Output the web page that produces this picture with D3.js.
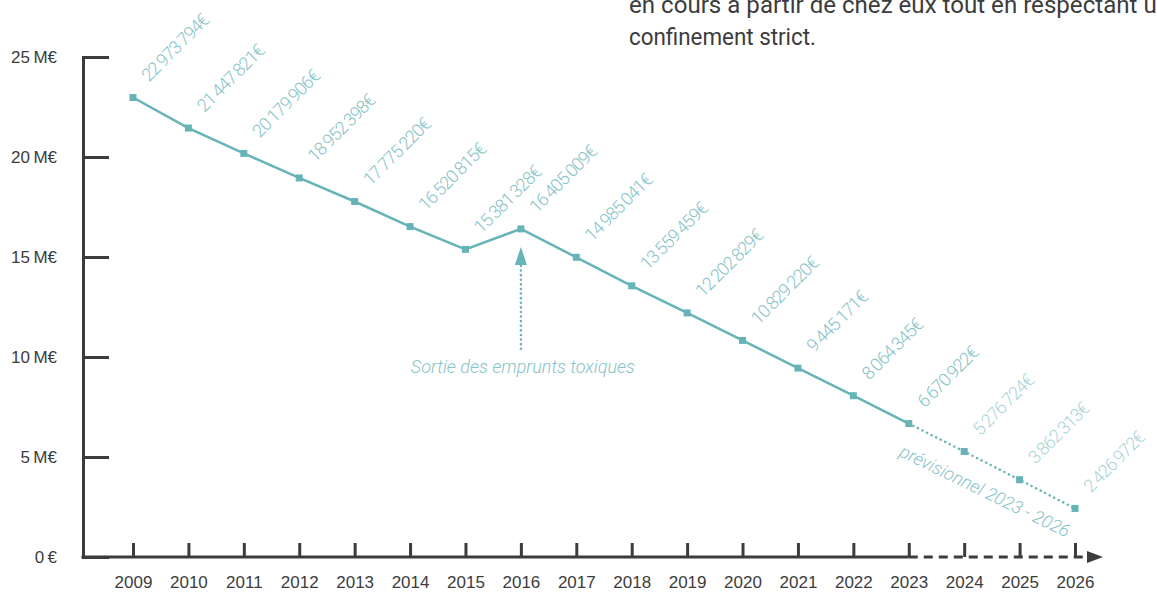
<!DOCTYPE html>
<html>
	<head>
		<title>Encours de la dette</title>
		<meta charset="utf-8">
		<style>
		body { margin: 0; background: #fff; }
		svg { display: block; font-family: Roboto, "DejaVu Sans", sans-serif; }
		.axis path, .axis line { stroke: #3c3c3c; stroke-width: 3px; }
		.axis text { fill: #3c3c3c; font-size: 17px; }
		.intro { fill: #3c3c3c; font-size: 24px; }
		.debt_line { fill: none; stroke: #66b4b7; stroke-width: 2.5px; }
		.forecast_line { fill: none; stroke: #66b4b7; stroke-width: 2.5px; stroke-dasharray: 0.1 5; stroke-linecap: round; }
		.marker { fill: #66b4b7; }
		.value_label { fill: #86c3c7; font-size: 18px; font-weight: 300; letter-spacing: -1px; }
		.value_label.forecast { fill: #a9d5d8; }
		.note { fill: #86c3c7; font-size: 18px; font-weight: 300; font-style: italic; }
		</style>
	</head>
<body>

<script src="https://cdn.jsdelivr.net/npm/d3@7"></script>

<script>

var width = 1157,
    height = 592;

// encours de la dette au 1er janvier
var years = [2009, 2010, 2011, 2012, 2013, 2014, 2015, 2016, 2017,
             2018, 2019, 2020, 2021, 2022, 2023, 2024, 2025, 2026];
var debt = [22973794, 21447821, 20179906, 18952398, 17775220, 16520815,
            15381328, 16405009, 14985041, 13559459, 12202829, 10829220,
            9445171, 8064345, 6670922, 5276724, 3862313, 2426972];
var last_real_year = 2023;   // après : prévisionnel
var y_ticks = [0, 5e6, 10e6, 15e6, 20e6, 25e6];

var intro_lines = ["en cours à partir de chez eux tout en respectant un",
                   "confinement strict."];
var event_year = 2016, event_text = "Sortie des emprunts toxiques";
var forecast_text = "prévisionnel 2023 - 2026";


var svg = d3.select("body").append("svg")
    .attr("width", width)
    .attr("height", height);

var x = d3.scaleLinear().domain([2009, 2026]).range([133, 1075]);
var y = d3.scaleLinear().domain([0, 25e6]).range([557, 57]);
var axis_x0 = 83;

var thin = "\u2009";
var fmt_money = function(v) { return d3.format(",")(v).replace(/,/g, thin) + "€"; };
var fmt_tick = function(v) { return v === 0 ? "0" + thin + "€" : (v / 1e6) + thin + "M€"; };

var data = years.map(function(yr, i) { return {year: yr, value: debt[i]}; });
var real = data.filter(function(d) { return d.year <= last_real_year; });
var forecast = data.filter(function(d) { return d.year >= last_real_year; });


// texte d'intro (coupé en haut)
svg.append("text")
	.attr("class", "intro")
	.attr("x", 629)
	.attr("y", 13)
	.attr("textLength", 541)
	.attr("lengthAdjust", "spacingAndGlyphs")
	.text(intro_lines[0]);
svg.append("text")
	.attr("class", "intro")
	.attr("x", 629)
	.attr("y", 45)
	.attr("textLength", 187)
	.attr("lengthAdjust", "spacingAndGlyphs")
	.text(intro_lines[1]);


// axe Y
var y_axis = svg.append("g")
	.attr("class", "axis")
	.attr("transform", "translate(" + axis_x0 + ",0)")
	.call(d3.axisLeft(y).tickValues(y_ticks).tickFormat(fmt_tick)
		.tickSizeInner(-26).tickSizeOuter(0).tickPadding(26));
y_axis.select(".domain").attr("stroke-linecap", "square");


// axe X : ticks vers le haut, ligne pleine puis pointillée
var x_axis = svg.append("g")
	.attr("class", "axis")
	.attr("transform", "translate(0," + y(0) + ")")
	.call(d3.axisBottom(x).tickValues(years).tickFormat(d3.format("d"))
		.tickSizeInner(-14).tickSizeOuter(0).tickPadding(19));
x_axis.select(".domain").remove();

x_axis.append("line")
	.attr("x1", axis_x0 - 1.5).attr("x2", x(last_real_year));
x_axis.append("line")
	.attr("x1", x(last_real_year)).attr("x2", x(2026) + 12)
	.style("stroke-dasharray", "9 6");
x_axis.append("path")
	.attr("d", "M" + (x(2026) + 12) + ",-6 L" + (x(2026) + 28) + ",0 L" + (x(2026) + 12) + ",6 Z")
	.style("fill", "#3c3c3c")
	.style("stroke", "none");


// courbe
var line = d3.line()
	.x(function(d) { return x(d.year); })
	.y(function(d) { return y(d.value); });

svg.append("path")
	.datum(real)
	.attr("class", "debt_line")
	.attr("d", line);

svg.append("path")
	.datum(forecast)
	.attr("class", "forecast_line")
	.attr("d", line);

svg.selectAll(".marker")
	.data(data)
.enter().append("rect")
	.attr("class", "marker")
	.attr("x", function(d) { return x(d.year) - 3.5; })
	.attr("y", function(d) { return y(d.value) - 3.5; })
	.attr("width", 7)
	.attr("height", 7);

// valeurs en diagonale
svg.selectAll(".value_label")
	.data(data)
.enter().append("text")
	.attr("class", function(d) { return d.year > last_real_year ? "value_label forecast" : "value_label"; })
	.attr("transform", function(d) {
		return "translate(" + (x(d.year) + 16) + "," + (y(d.value) - 15) + ") rotate(-45)";
	})
	.text(function(d) { return fmt_money(d.value); });


// annotation emprunts toxiques
var ev = data.filter(function(d) { return d.year === event_year; })[0];
var ex = x(ev.year), ey = y(ev.value);
svg.append("path")
	.attr("d", "M" + ex + "," + (ey + 18) + " L" + (ex - 6) + "," + (ey + 36) + " L" + (ex + 6) + "," + (ey + 36) + " Z")
	.style("fill", "#66b4b7");
svg.append("line")
	.attr("x1", ex).attr("x2", ex)
	.attr("y1", ey + 37).attr("y2", ey + 121)
	.style("stroke", "#66b4b7")
	.style("stroke-width", 2.5)
	.style("stroke-linecap", "round")
	.style("stroke-dasharray", "0.1 4.5");
svg.append("text")
	.attr("class", "note")
	.attr("x", ex + 2)
	.attr("y", ey + 144)
	.attr("text-anchor", "middle")
	.text(event_text);

// annotation prévisionnel
var a0 = forecast[0], a1 = forecast[forecast.length - 1];
var ang = Math.atan2(y(a1.value) - y(a0.value), x(a1.year) - x(a0.year)) * 180 / Math.PI - 1;
svg.append("text")
	.attr("class", "note")
	.attr("text-anchor", "middle")
	.attr("transform", "translate(" + ((x(a0.year) + x(a1.year)) / 2 - 7) + "," + ((y(a0.value) + y(a1.value)) / 2 + 25) + ") rotate(" + ang + ")")
	.attr("dy", "0.35em")
	.text(forecast_text);

</script>
</body>
</html>
